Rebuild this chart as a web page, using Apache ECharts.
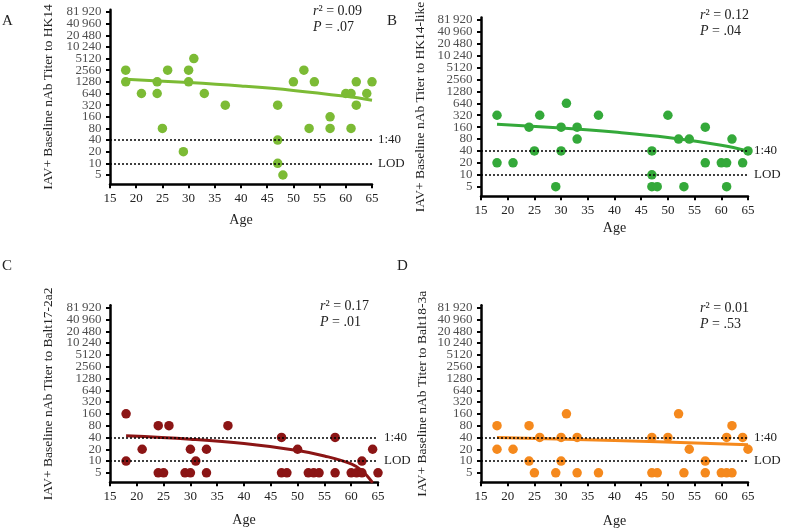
<!DOCTYPE html>
<html><head><meta charset="utf-8">
<script src="https://cdn.jsdelivr.net/npm/echarts@6/dist/echarts.min.js"></script>
<style>html,body{margin:0;padding:0;background:#fff}#c{width:785px;height:528px}</style>
</head><body><div id="c"></div>
<script>
// ---- tick labels ----
const yTickTiters = [5,10,20,40,80,160,320,640,1280,2560,5120,10240,20480,40960,81920];
const yTickLabels = ['5','10','20','40','80','160','320','640','1280','2560','5120','10\u2009240','20\u2009480','40\u2009960','81\u2009920'];
const refValues = [40, 10];
const refLabels = ['1:40', 'LOD'];

// ---- Panel A: HK14 ----
const aAge   = [18,18,21,24,24,25,26,29,30,30,31,33,37,47,47,47,48,50,52,53,54,57,57,60,61,61,62,62,64,65];
const aTiter = [2560,1280,640,1280,640,80,2560,20,2560,1280,5120,640,320,320,40,10,5,1280,2560,80,1280,160,80,640,640,80,1280,320,640,1280];
const aFitAge   = [18,30,40,50,60,65];
const aFitTiter = [1500,1230,1000,770,540,430];

// ---- Panel B: HK14-like ----
const bAge   = [18,18,21,24,25,26,29,30,30,31,33,33,37,47,47,47,48,50,52,53,54,57,57,60,61,61,62,64,65];
const bTiter = [320,20,20,160,40,320,5,160,40,640,160,80,320,40,10,5,5,320,80,5,80,160,20,20,20,5,80,20,40];
const bFitAge   = [18,30,40,50,60,65];
const bFitTiter = [190,152,120,88,56,40];

// ---- Panel C: Balt17-2a2 ----
const cAge   = [18,18,21,24,24,25,26,29,30,30,31,33,33,37,47,47,48,50,52,53,54,57,57,60,61,62,62,64,65];
const cTiter = [160,10,20,80,5,5,80,5,20,5,10,20,5,80,40,5,5,20,5,5,5,40,5,5,5,10,5,20,5];
const cFitAge   = [18,30,40,50,55,60,62,64];
const cFitTiter = [44,36,28,18.5,13.5,8.5,5.7,2.8];

// ---- Panel D: Balt18-3a ----
const dAge   = [18,18,21,24,24,25,26,29,30,30,31,33,33,37,47,47,48,50,52,53,54,57,57,60,61,61,62,62,64,65];
const dTiter = [80,20,20,80,10,5,40,5,40,10,160,40,5,5,40,5,5,40,160,5,20,10,5,5,40,5,80,5,40,20];
const dFitAge   = [18,40,65];
const dFitTiter = [40,33.5,26];

const titles = ['IAV+ Baseline nAb Titer to HK14','IAV+ Baseline nAb Titer to HK14-like','IAV+ Baseline nAb Titer to Balt17-2a2','IAV+ Baseline nAb Titer to Balt18-3a'];
const letters = ['A','B','C','D'];
const r2s = ['0.09','0.12','0.17','0.01'];
const ps = ['.07','.04','.01','.53'];

// ---- layout / style (not data) ----
const colors = ['#7cbb35','#34a93a','#8b1515','#f5891d'];
const grids = [
  {left:110, top:9.7, width:262, height:174.6},
  {left:481, top:17.6, width:267, height:178.6},
  {left:110, top:305.3, width:268, height:177},
  {left:481, top:305.3, width:267, height:177}
];
const xNameGaps = [29, 25, 31, 32];
const yNameGaps = [55, 54, 55, 52];
const letterPos = [[2,14],[387,14],[2,259],[397,259]];
const statPos = [[313,3],[700,7],[320,298],[700,300]];

const SERIF = '"Liberation Serif", "Times New Roman", serif';
const L2 = t => Math.log2(t / 5);
const tickIdx = yTickTiters.map((t) => L2(t));

const panelData = [
  [aAge,aTiter,aFitAge,aFitTiter],
  [bAge,bTiter,bFitAge,bFitTiter],
  [cAge,cTiter,cFitAge,cFitTiter],
  [dAge,dTiter,dFitAge,dFitTiter]
];

const option = {
  animation:false,
  backgroundColor:'#fff',
  grid: grids.map(g => Object.assign({outerBoundsMode:'none', containLabel:false}, g)),
  xAxis: grids.map((g,i) => ({
    type:'value', gridIndex:i, min:15, max:65, interval:5,
    name:'Age', nameLocation:'middle', nameGap:xNameGaps[i],
    nameTextStyle:{fontFamily:SERIF, fontSize:14, color:'#222'},
    axisLine:{show:true, onZero:false, lineStyle:{color:'#000', width:2.5}},
    axisTick:{show:true, inside:false, length:4, lineStyle:{color:'#000', width:2}},
    axisLabel:{fontFamily:SERIF, fontSize:13, color:'#222', margin:8, hideOverlap:false,
      showMinLabel:true, showMaxLabel:true},
    splitLine:{show:false}
  })),
  yAxis: grids.map((g,i) => ({
    type:'value', gridIndex:i, min:-0.8, max:14.2,
    name:titles[i], nameLocation:'middle', nameGap:yNameGaps[i],
    nameTextStyle:{fontFamily:SERIF, fontSize:13.5, color:'#222'},
    axisLine:{show:true, onZero:false, lineStyle:{color:'#000', width:2.5}},
    axisTick:{show:true, inside:false, length:4, customValues:tickIdx, lineStyle:{color:'#000', width:2}},
    axisLabel:{show:false},
    splitLine:{show:false}
  })),
  series: [],
  graphic: []
};

panelData.forEach((pd, i) => {
  const [ages, titers, fa, ft] = pd;
  option.series.push({
    type:'scatter', xAxisIndex:i, yAxisIndex:i, symbolSize:9.5, z:3,
    itemStyle:{color:colors[i], opacity:1},
    data: ages.map((a,k) => [a, L2(titers[k])]),
    markLine:{
      silent:true, symbol:'none', animation:false,
      lineStyle:{color:'#000', type:[2,2], width:1.5},
      label:{position:'end', distance:6, color:'#222', fontFamily:SERIF, fontSize:13, formatter:p => p.name},
      data: refValues.map((v,k) => [{coord:[15, L2(v)], name:refLabels[k]}, {coord:[65, L2(v)]}])
    }
  });
  option.series.push({
    type:'line', xAxisIndex:i, yAxisIndex:i, symbol:'none', smooth:0.4, z:4, clip:true,
    lineStyle:{color:colors[i], width:3},
    data: fa.map((a,k) => [a, L2(ft[k])])
  });
  // y tick labels, placed through the y scale
  option.series.push({
    type:'scatter', xAxisIndex:i, yAxisIndex:i, symbol:'circle', symbolSize:1, silent:true, clip:false, z:5,
    itemStyle:{color:'rgba(0,0,0,0)'},
    label:{show:true, position:'left', distance:8, color:'#222', fontFamily:SERIF, fontSize:13,
      formatter:p => yTickLabels[p.dataIndex]},
    labelLayout:{hideOverlap:false},
    data: tickIdx.map(u => [15, u])
  });
  option.graphic.push({type:'text', left:letterPos[i][0], top:letterPos[i][1],
    style:{text:letters[i], font:'15px ' + SERIF, fill:'#222'}});
  option.graphic.push({type:'text', left:statPos[i][0], top:statPos[i][1],
    style:{text:'{i|r}\u00b2 = ' + r2s[i] + '\n{i|P} = ' + ps[i], fill:'#222',
      font:'14px ' + SERIF, lineHeight:16,
      rich:{i:{fontStyle:'italic', fontFamily:SERIF, fontSize:14, lineHeight:16}}}});
});

const chart = echarts.init(document.getElementById('c'), null, {renderer:'canvas'});
chart.setOption(option);
</script>
</body></html>
